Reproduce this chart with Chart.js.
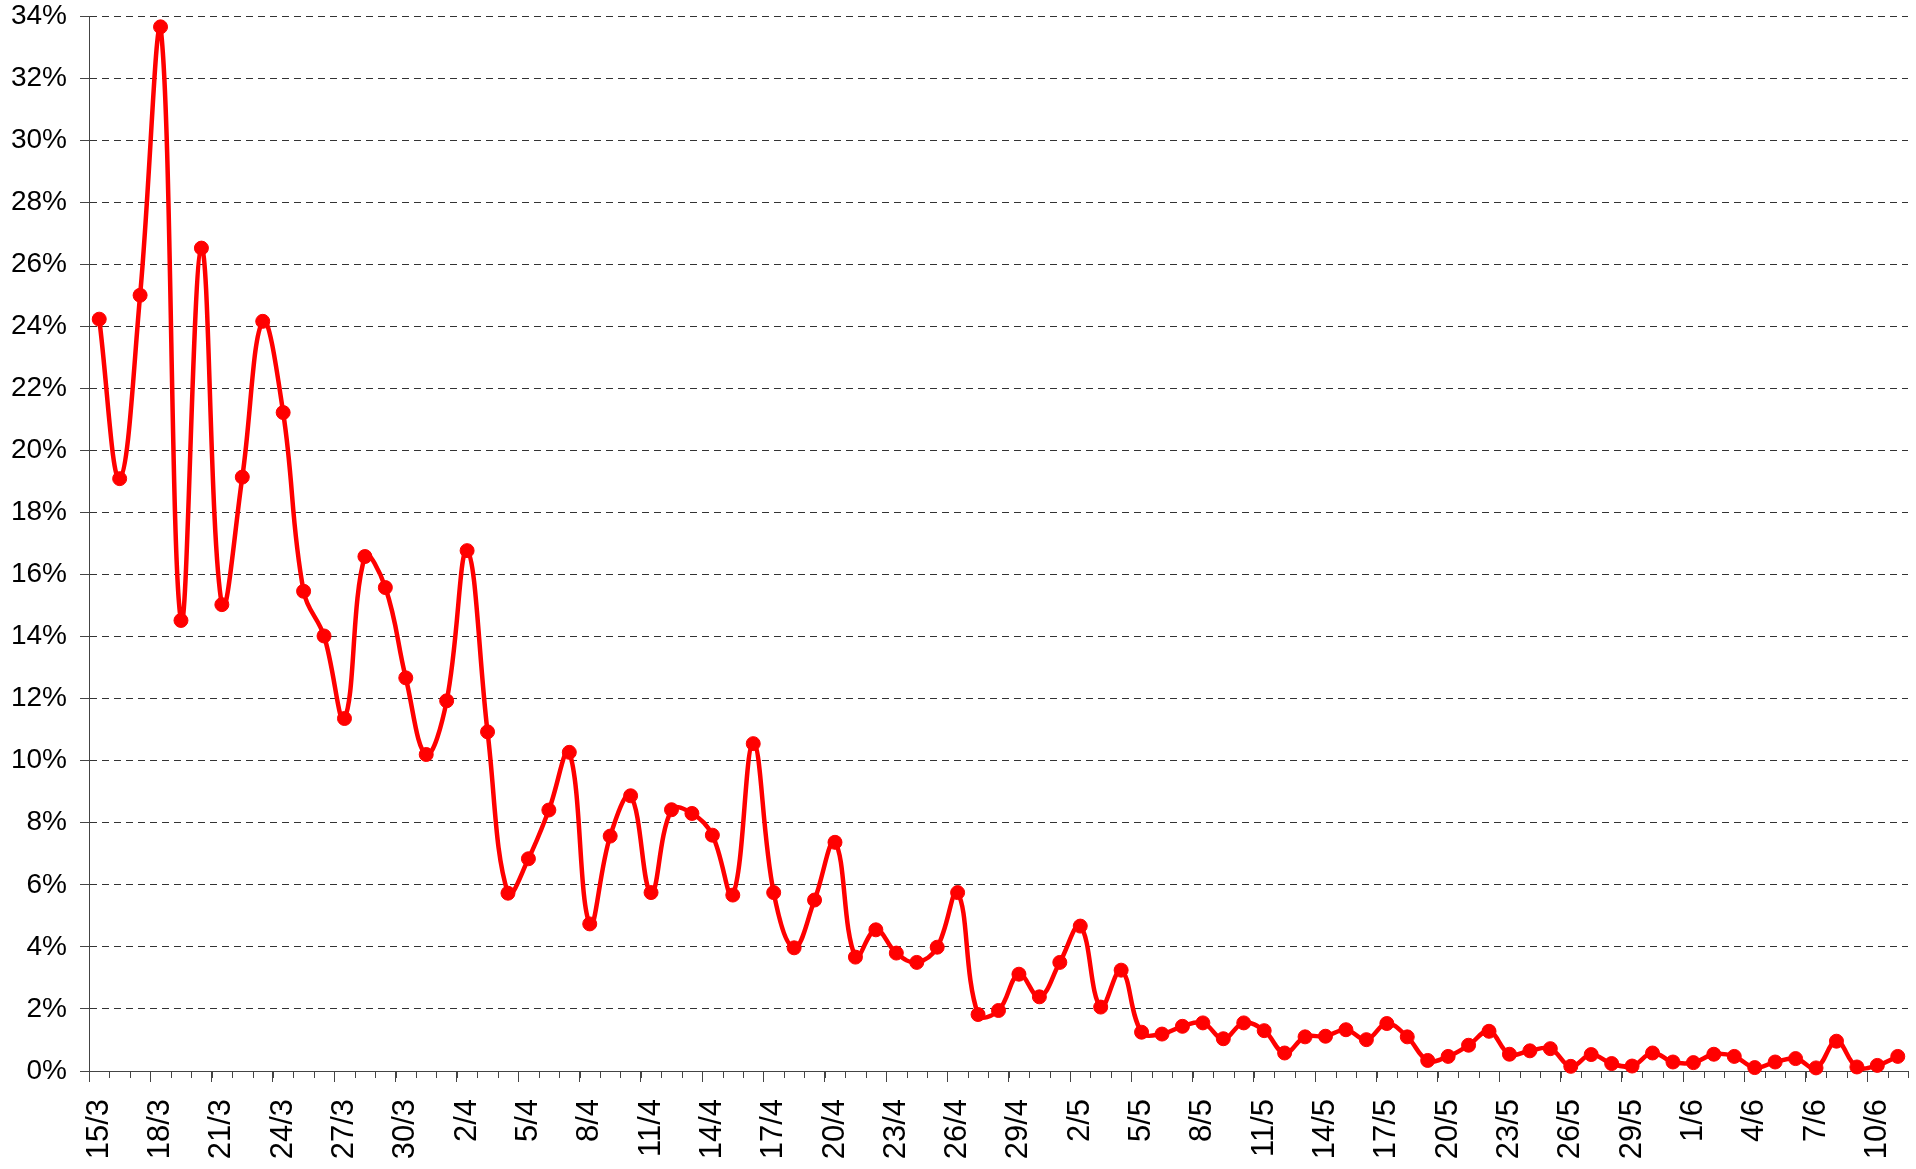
<!DOCTYPE html>
<html>
<head>
<meta charset="utf-8">
<script src="https://cdn.jsdelivr.net/npm/chart.js@4.4.1/dist/chart.umd.min.js"></script>
<style>
  html, body { margin: 0; padding: 0; background: #fff; }
  #wrap { width: 1916px; height: 1169px; }
</style>
</head>
<body>
<div id="wrap"><canvas id="myChart"></canvas></div>
<script>
var dates = [
  "15/3","16/3","17/3","18/3","19/3","20/3","21/3","22/3","23/3","24/3","25/3","26/3","27/3","28/3","29/3","30/3","31/3",
  "1/4","2/4","3/4","4/4","5/4","6/4","7/4","8/4","9/4","10/4","11/4","12/4","13/4","14/4","15/4","16/4","17/4","18/4","19/4","20/4",
  "21/4","22/4","23/4","24/4","25/4","26/4","27/4","28/4","29/4","30/4",
  "1/5","2/5","3/5","4/5","5/5","6/5","7/5","8/5","9/5","10/5","11/5","12/5","13/5","14/5","15/5","16/5","17/5","18/5","19/5","20/5",
  "21/5","22/5","23/5","24/5","25/5","26/5","27/5","28/5","29/5","30/5","31/5",
  "1/6","2/6","3/6","4/6","5/6","6/6","7/6","8/6","9/6","10/6","11/6"
];
// daily values in %
var rates = [
  24.23, 19.09, 25.0, 33.65, 14.52, 26.52, 15.03, 19.14, 24.16, 21.22, 15.46, 14.02, 11.36, 16.58, 15.58, 12.67, 10.2,
  11.93, 16.77, 10.93, 5.73, 6.84, 8.41, 10.27, 4.74, 7.57, 8.87, 5.75, 8.42, 8.3, 7.6, 5.67, 10.55, 5.75, 3.97, 5.51, 7.37,
  3.67, 4.55, 3.8, 3.5, 3.99, 5.75, 1.82, 1.95, 3.12, 2.39,
  3.5, 4.67, 2.06, 3.25, 1.25, 1.19, 1.44, 1.55, 1.04, 1.55, 1.3, 0.58, 1.10, 1.12, 1.33, 1.01, 1.53, 1.10, 0.34, 0.47,
  0.83, 1.28, 0.54, 0.65, 0.72, 0.15, 0.53, 0.24, 0.16, 0.58, 0.29,
  0.27, 0.54, 0.47, 0.11, 0.29, 0.40, 0.10, 0.96, 0.13, 0.18, 0.47
];
var yMax = 34;
var labelEvery = 3;

var axisColor = '#444';
var gridColor = '#333';
var lineColor = '#ff0000';

// small tick marks at every category boundary
var minorTicks = {
  id: 'minorTicks',
  afterDraw: function(chart) {
    var x = chart.scales.x;
    var ctx = chart.ctx;
    var half = (x.getPixelForValue(1) - x.getPixelForValue(0)) / 2;
    ctx.save();
    ctx.strokeStyle = axisColor;
    ctx.lineWidth = 1;
    ctx.beginPath();
    for (var i = 0; i <= dates.length; i++) {
      var px = Math.round(x.getPixelForValue(i) - half) + 0.5;
      ctx.moveTo(px, x.top);
      ctx.lineTo(px, x.top + 7);
    }
    ctx.stroke();
    ctx.restore();
  }
};

Chart.defaults.font.family = "'Liberation Sans', Arial, sans-serif";
Chart.defaults.color = '#000';

new Chart("myChart", {
  type: "line",
  data: {
    labels: dates,
    datasets: [{
      data: rates,
      borderColor: lineColor,
      backgroundColor: lineColor,
      borderWidth: 4.5,
      pointRadius: 7,
      pointBorderWidth: 1,
      pointBackgroundColor: lineColor,
      pointBorderColor: lineColor,
      tension: 0.4,
      fill: false,
      clip: false
    }]
  },
  options: {
    responsive: true,
    maintainAspectRatio: false,
    animation: false,
    layout: { padding: { top: 16, right: 8, left: 0, bottom: 0 } },
    plugins: {
      legend: { display: false },
      title: { display: false },
      tooltip: { enabled: false }
    },
    scales: {
      x: {
        type: 'category',
        offset: true,
        afterFit: function(s) { s.height = 98; s.paddingLeft = 0; s.paddingRight = 0; },
        border: { display: true, color: axisColor, width: 1 },
        grid: {
          offset: true,
          drawOnChartArea: false,
          drawTicks: true,
          tickLength: 11,
          tickColor: function(c) { return c.index % labelEvery === 0 ? axisColor : 'rgba(0,0,0,0)'; }
        },
        ticks: {
          autoSkip: false,
          minRotation: 90,
          maxRotation: 90,
          padding: 17,
          font: { size: 31 },
          color: '#000',
          callback: function(v, i) { return i % labelEvery === 0 ? dates[i] : ''; }
        }
      },
      y: {
        min: 0,
        max: yMax,
        afterFit: function(s) { s.width = 89; s.paddingTop = 0; s.paddingBottom = 0; },
        border: { display: true, color: axisColor, width: 1, dash: [7, 5] },
        grid: {
          drawTicks: true,
          tickLength: 9,
          lineWidth: 1,
          color: function(c) { return c.tick && c.tick.value === 0 ? 'rgba(0,0,0,0)' : gridColor; },
          tickColor: function(c) { return c.tick && c.tick.value % 2 === 0 ? axisColor : 'rgba(0,0,0,0)'; },
          tickBorderDash: []
        },
        ticks: {
          stepSize: 1,
          padding: 13,
          font: { size: 28 },
          color: '#000',
          callback: function(v) { return v % 2 === 0 ? v + '%' : ''; }
        }
      }
    }
  },
  plugins: [minorTicks]
});
</script>
</body>
</html>
